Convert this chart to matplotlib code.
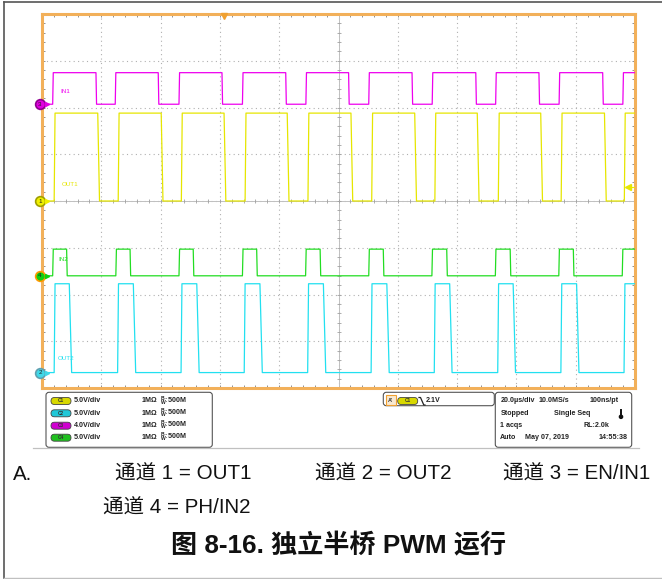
import numpy as np
import matplotlib.pyplot as plt
from matplotlib.patches import FancyBboxPatch, Rectangle, Circle

plt.rcParams['mathtext.fontset'] = 'custom'
plt.rcParams['mathtext.rm'] = 'Liberation Sans'
plt.rcParams['mathtext.bf'] = 'Liberation Sans:bold'

W, H = 662, 579

# scope settings: 20 us/div, 10 div across, 8 div high
us_per_div = 20.0
t_span = 10 * us_per_div

# edge times in us from the left edge of the screen
in1_rise = [3.6, 24.7, 46.2, 67.6, 89.0, 110.2, 131.6, 153.0, 174.4, 195.9]
in1_fall = [18.2, 39.2, 60.7, 82.2, 103.4, 124.8, 146.3, 167.6, 189.1]
out1_rise = [4.1, 25.7, 47.0, 68.5, 89.7, 111.2, 132.5, 153.9, 175.1, 196.4]
out1_fall = [18.8, 40.2, 61.4, 82.7, 104.2, 125.7, 146.8, 168.2, 189.7]
in2_rise = [3.6, 24.9, 46.2, 67.6, 88.9, 110.2, 131.5, 152.9, 174.3, 195.7]
in2_fall = [8.3, 29.7, 51.0, 72.4, 93.8, 115.1, 136.5, 157.9, 179.2]
out2_rise = [4.1, 25.5, 46.9, 68.2, 89.6, 111.0, 132.3, 153.7, 175.0, 196.3]
out2_fall = [9.2, 30.8, 52.2, 73.5, 94.9, 116.3, 137.5, 158.9, 180.3]

# channel: number, label, V/div, ground offset (div), high level (V), colour
channels = [
    (3, 'IN1', 4.0, 2.07, 2.7, '#ee00ee', in1_rise, in1_fall, 0.2, 0.2),
    (1, 'OUT1', 5.0, 0.0, 9.4, '#e6e600', out1_rise, out1_fall, 0.3, 0.6),
    (4, 'IN2', 5.0, -1.6, 2.85, '#22dd22', in2_rise, in2_fall, 0.2, 0.2),
    (2, 'OUT2', 5.0, -3.67, 9.5, '#22e0f0', out2_rise, out2_fall, 0.3, 0.8),
]
label_pos = {'IN1': (6.1, 2.35), 'OUT1': (6.7, 0.36), 'IN2': (5.5, -1.26), 'OUT2': (5.4, -3.36)}
marker_face = {1: '#f0f000', 2: '#40d8e8', 3: '#e000e0', 4: '#10d010'}
marker_edge = {1: '#a0a000', 2: '#60a0b0', 3: '#900090', 4: '#ff9900'}

trig_time = 61.5
trig_level = 0.3

info_left = [('C1', '#d8d800', '5.0V/div'), ('C2', '#20c8d8', '5.0V/div'),
             ('C3', '#d000d0', '4.0V/div'), ('C4', '#20c020', '5.0V/div')]


def square(rises, falls, high, tr, tf):
    xs, ys = [0.0], [0.0]
    edges = sorted([(t, 1) for t in rises] + [(t, 0) for t in falls])
    for t, up in edges:
        if up:
            xs += [t, t + tr]
            ys += [0.0, high]
        else:
            xs += [t, t + tf]
            ys += [high, 0.0]
    xs.append(t_span)
    ys.append(ys[-1])
    return np.array(xs), np.array(ys)


fig = plt.figure(figsize=(W / 100, H / 100), dpi=100)

# overlay in pixel coordinates for frame, panels and caption
ov = fig.add_axes([0, 0, 1, 1])
ov.set_xlim(0, W)
ov.set_ylim(H, 0)
ov.axis('off')

ov.plot([3.5, 3.5], [2, 578], color='#555555', lw=1.2)
ov.plot([3.5, 662], [2, 2], color='#555555', lw=1.2)
ov.plot([3.5, 662], [578, 578], color='#c0c0c0', lw=1.0)
ov.plot([33, 639], [447.7, 447.7], color='#c0c0c0', lw=0.9)

# scope screen
x0, y0, x1, y1 = 42, 14, 635, 388
ax = fig.add_axes([x0 / W, 1 - y1 / H, (x1 - x0) / W, (y1 - y0) / H])
ax.set_xlim(0, t_span)
ax.set_ylim(-4, 4)
ax.set_xticks(np.arange(0, t_span + 0.1, us_per_div))
ax.set_yticks(np.arange(-4, 4.1, 1))
ax.set_xticks(np.arange(0, t_span + 0.1, us_per_div / 5), minor=True)
ax.set_yticks(np.arange(-4, 4.1, 0.2), minor=True)
ax.tick_params(which='both', direction='in', length=2.5, width=0.7, color='#909090',
               top=True, right=True, labelbottom=False, labelleft=False)
ax.grid(True, which='major', color='#b0b0b0', lw=0.8, ls=(0, (1, 3)))
for s in ax.spines.values():
    s.set_color('#f2b05a')
    s.set_linewidth(2.2)
ax.axhline(0, color='#c0c0c0', lw=0.7)
ax.axvline(t_span / 2, color='#c0c0c0', lw=0.7)
mx = np.arange(0, t_span + 0.1, us_per_div / 5)
my = np.arange(-4, 4.1, 0.2)
ax.plot(mx, np.zeros_like(mx), ls='none', marker='|', ms=3.5, mew=0.6, color='#a0a0a0')
ax.plot(np.full_like(my, t_span / 2), my, ls='none', marker='_', ms=3.5, mew=0.6, color='#a0a0a0')

for num, name, vdiv, off, high, col, rises, falls, tr, tf in channels:
    t, v = square(rises, falls, high, tr, tf)
    ax.plot(t, off + v / vdiv, color=col, lw=0.9, zorder=3)
    lx, ly = label_pos[name]
    ax.text(lx, ly, name, color=col, fontsize=4.5, family='Liberation Sans', va='center', zorder=4)
    ax.plot(-0.7, off, marker='o', ms=7, mfc=marker_face[num], mec=marker_edge[num], mew=1.2,
            clip_on=False, zorder=6)
    ax.text(-0.7, off, str(num), fontsize=4.5, ha='center', va='center', color='#202020',
            family='Liberation Sans', clip_on=False, zorder=7)
    ax.plot(1.6, off, marker='>', ms=3, color=marker_face[num], clip_on=False, zorder=6)

ax.plot(trig_time, 3.95, marker='v', ms=5, color='#f0a030', clip_on=False, zorder=6)
ax.plot([197.5, 200], [trig_level, trig_level], color='#e6e600', lw=0.8, zorder=6)
ax.plot(197.5, trig_level, marker='<', ms=4, color='#e6e600', zorder=6)

# bottom info panels
fp = dict(family='Liberation Sans', fontweight='bold', fontsize=5.1, color='#222222', va='center')


def panel(x, y, w, h):
    ov.add_patch(FancyBboxPatch((x, y), w, h, boxstyle='round,pad=0,rounding_size=3',
                                fc='white', ec='#555555', lw=0.8))


def pill(x, y, txt, col):
    ov.add_patch(FancyBboxPatch((x, y - 3.5), 20, 7, boxstyle='round,pad=0,rounding_size=3.5',
                                fc=col, ec='#444444', lw=0.6))
    ov.text(x + 10, y, txt, fontsize=3.4, ha='center', va='center', color='#333333',
            family='Liberation Sans', fontweight='bold')


panel(46, 392.3, 166.3, 55)
rows = [401, 413.3, 425.7, 437.7]
for (c, col, vd), ry in zip(info_left, rows):
    pill(51, ry, c, col)
    ov.text(74, ry, vd, **fp)
    ov.text(141.7, ry, '1MΩ', **fp)
    ov.text(160.5, ry, r'$\mathbf{^{B}_{W}}$:500M', **fp)

panel(383.3, 392.3, 111, 13.4)
ov.add_patch(Rectangle((386, 395.3), 9.5, 10, fc='#f8e8d0', ec='#f0a030', lw=0.8))
ov.text(390.7, 400.5, "A'", fontsize=4, ha='center', va='center', family='Liberation Sans',
        fontweight='bold', color='#333333')
pill(397.7, 401, 'C1', '#d8d800')
ov.plot([419, 420.5, 423.8, 425], [397.5, 397.5, 405, 405], color='#222222', lw=0.9)
ov.text(426, 401, '2.1V', **fp)

panel(495.3, 392.3, 136.4, 55)
ov.text(500.3, 401, '20.0µs/div', **fp)
ov.text(538.3, 401, '10.0MS/s', **fp)
ov.text(618.5, 401, '100ns/pt', ha='right', **fp)
ov.text(500.3, 413.3, 'Stopped', **fp)
ov.text(553.7, 413.3, 'Single Seq', **fp)
ov.plot([621, 621], [409.5, 416], color='#111111', lw=1.4)
ov.add_patch(Circle((621, 416.8), 1.6, color='#111111'))
ov.text(500.3, 425.7, '1 acqs', **fp)
ov.text(609.5, 425.7, 'RL:2.0k', ha='right', **fp)
ov.text(500.3, 437.7, 'Auto', **fp)
ov.text(525, 437.7, 'May 07, 2019', **fp)
ov.text(627.8, 437.7, '14:55:38', ha='right', **fp)

# caption below the screenshot
cf = dict(family=['Liberation Sans', 'Noto Sans CJK SC'], fontsize=14.8, color='#111111', va='center')
ov.text(12.7, 474.5, 'A.', **cf)
ov.text(115, 474.5, '通道 1 = OUT1', **cf)
ov.text(315, 474.5, '通道 2 = OUT2', **cf)
ov.text(503.3, 474.5, '通道 3 = EN/IN1', **cf)
ov.text(103.3, 508.3, '通道 4 = PH/IN2', **cf)
ov.text(170.7, 546, '图 8-16. 独立半桥 PWM 运行', fontweight='bold',
        **{**cf, 'fontsize': 18.8})

fig.savefig('out.png', dpi=100)
